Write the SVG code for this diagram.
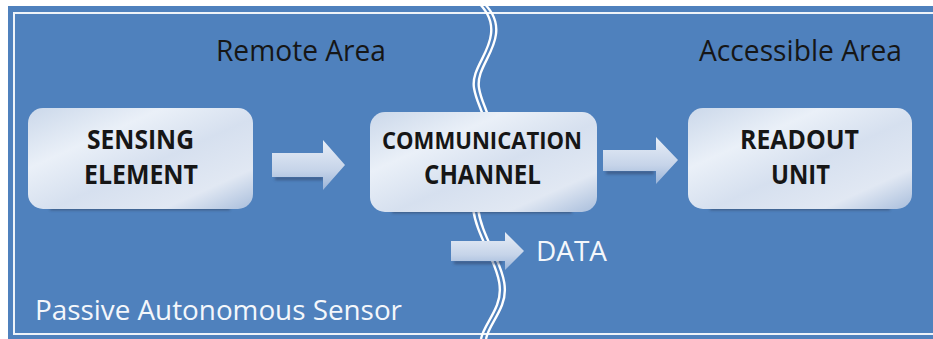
<svg xmlns="http://www.w3.org/2000/svg" width="933" height="339" viewBox="0 0 933 339">
<defs>
<style>
.lbl{font-family:"Open Sans","Liberation Sans",sans-serif;}
.dark{fill:#161616;}
.white{fill:#f4f7fb;}
.node{font-weight:bold;}
.box{fill:url(#boxg);}
.arrow{fill:url(#arrg);}
.wave{fill:none;stroke:#ffffff;stroke-width:2.4;}
</style>
<linearGradient id="boxg" x1="0" y1="0" x2="1" y2="1">
<stop offset="0" stop-color="#cbd8ea"/>
<stop offset="0.3" stop-color="#eaf0f8"/>
<stop offset="0.55" stop-color="#d6e0ef"/>
<stop offset="0.8" stop-color="#e1e8f3"/>
<stop offset="1" stop-color="#a9bedc"/>
</linearGradient>
<linearGradient id="arrg" x1="0" y1="0" x2="0" y2="1">
<stop offset="0" stop-color="#e8eef7"/>
<stop offset="0.6" stop-color="#c6d4e9"/>
<stop offset="1" stop-color="#9ab4d8"/>
</linearGradient>
<filter id="blur" x="-20%" y="-200%" width="140%" height="500%">
<feGaussianBlur stdDeviation="1.5"/>
</filter>
</defs>

<rect x="8" y="6" width="940" height="340" fill="#4f81bd"/>
<rect x="14" y="13" width="930" height="321" fill="none" stroke="#eef3f9" stroke-width="2"/>

<g id="divider">
<path class="wave" d="M476,0 C484,8 493,18 491,34 C489,54 471,70 474,88 C476,100 481,108 483,116"/>
<path class="wave" d="M481,0 C489,8 498,18 496,34 C494,54 476,70 479,88 C481,100 486,108 488,116"/>
<path class="wave" d="M473,208 C475,225 483,240 491,258 C499,276 503,290 497,305 C491,320 483,328 481,339"/>
<path class="wave" d="M478,208 C480,225 488,240 496,258 C504,276 508,290 502,305 C496,320 488,328 486,339"/>
</g>

<g id="labels">
<text class="lbl dark" x="216" y="61" font-size="29" textLength="170" lengthAdjust="spacingAndGlyphs">Remote Area</text>
<text class="lbl dark" x="699" y="61" font-size="29" textLength="203" lengthAdjust="spacingAndGlyphs">Accessible Area</text>
<text class="lbl white" x="35" y="320" font-size="28" textLength="367" lengthAdjust="spacingAndGlyphs">Passive Autonomous Sensor</text>
</g>

<g id="connectors">
<g id="arrow1">
<rect x="275" y="177" width="48" height="3" fill="#34476a" opacity="0.7" filter="url(#blur)"/>
<path class="arrow" d="M272,153 L323,153 L323,140 L345,165 L323,190 L323,177 L272,177 Z"/>
</g>
<g id="arrow2">
<rect x="606" y="171" width="48" height="3" fill="#34476a" opacity="0.7" filter="url(#blur)"/>
<path class="arrow" d="M603,150 L656,150 L656,137 L678,160 L656,184 L656,171 L603,171 Z"/>
</g>
<g id="arrow3">
<rect x="454" y="261" width="48" height="3" fill="#34476a" opacity="0.7" filter="url(#blur)"/>
<path class="arrow" d="M451,241 L505,241 L505,232 L524,251 L505,270 L505,261 L451,261 Z"/>
<text class="lbl white" x="536" y="261" font-size="28" textLength="71" lengthAdjust="spacingAndGlyphs">DATA</text>
</g>
</g>

<g id="sensing">
<rect x="50" y="206" width="180" height="4" fill="#2d3b55" opacity="0.6" filter="url(#blur)"/>
<rect class="box" x="28" y="108" width="225" height="101" rx="15"/>
<text class="lbl dark node" x="87" y="149" font-size="27" textLength="107" lengthAdjust="spacingAndGlyphs">SENSING</text>
<text class="lbl dark node" x="84" y="184" font-size="27" textLength="114" lengthAdjust="spacingAndGlyphs">ELEMENT</text>
</g>

<g id="channel">
<rect x="392" y="209" width="180" height="4" fill="#2d3b55" opacity="0.6" filter="url(#blur)"/>
<rect class="box" x="370" y="112" width="227" height="100" rx="15"/>
<text class="lbl dark node" x="382" y="149" font-size="24" textLength="200" lengthAdjust="spacingAndGlyphs">COMMUNICATION</text>
<text class="lbl dark node" x="424" y="184" font-size="27" textLength="117" lengthAdjust="spacingAndGlyphs">CHANNEL</text>
</g>

<g id="readout">
<rect x="710" y="206" width="180" height="4" fill="#2d3b55" opacity="0.6" filter="url(#blur)"/>
<rect class="box" x="688" y="108" width="224" height="101" rx="15"/>
<text class="lbl dark node" x="740" y="149" font-size="27" textLength="119" lengthAdjust="spacingAndGlyphs">READOUT</text>
<text class="lbl dark node" x="771" y="184" font-size="27" textLength="59" lengthAdjust="spacingAndGlyphs">UNIT</text>
</g>
</svg>
